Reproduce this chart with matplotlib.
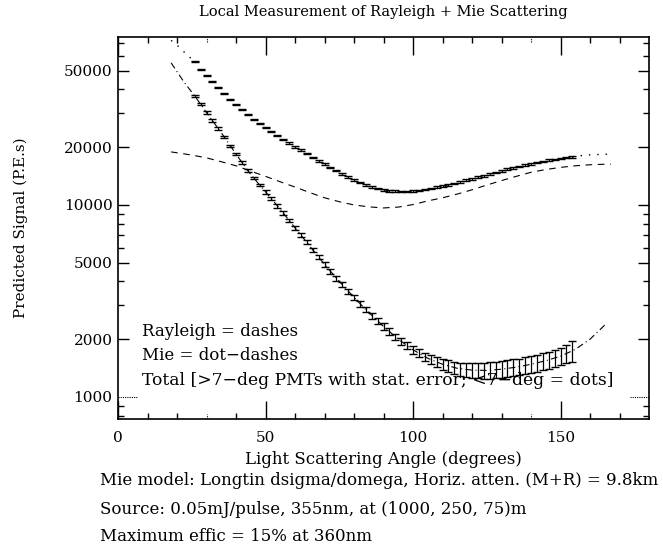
import numpy as np
import matplotlib
matplotlib.use("Agg")
import matplotlib.pyplot as plt
import matplotlib.transforms as mtransforms
from matplotlib.ticker import LogLocator, FixedLocator, NullFormatter

plt.rcParams.update({'font.size': 12, 'font.family': 'DejaVu Serif'})

# Total (>7-deg PMTs) with stat. errors, every 2 deg
tot_ang = [26, 28, 30, 32, 34, 36, 38, 40, 42, 44, 46, 48, 50, 52, 54, 56, 58, 60,
           62, 64, 66, 68, 70, 72, 74, 76, 78, 80, 82, 84, 86, 88, 90, 92, 94, 96,
           98, 100, 102, 104, 106, 108, 110, 112, 114, 116, 118, 120, 122, 124, 126,
           128, 130, 132, 134, 136, 138, 140, 142, 144, 146, 148, 150, 152, 154]
tot_sig = [55600, 51000, 47500, 44000, 41000, 38200, 35600, 33400, 31300, 29500,
           27900, 26600, 25400, 24200, 23000, 22000, 21000, 20100, 19300, 18500,
           17700, 17000, 16300, 15700, 15100, 14500, 14000, 13500, 13100, 12750,
           12450, 12200, 12000, 11850, 11780, 11750, 11750, 11800, 11900, 12050,
           12200, 12400, 12550, 12750, 12950, 13200, 13450, 13700, 13950, 14200,
           14500, 14800, 15050, 15350, 15600, 15850, 16100, 16350, 16600, 16850,
           17100, 17300, 17500, 17650, 17800]
tot_err = [300, 290, 280, 270, 260, 250, 240, 230, 220, 215, 210, 205, 200, 195,
           190, 185, 180, 175, 170, 165, 160, 155, 150, 145, 140, 140, 135, 135,
           130, 130, 125, 125, 125, 120, 120, 120, 120, 120, 120, 125, 125, 125,
           125, 130, 130, 130, 130, 135, 135, 135, 140, 140, 140, 145, 145, 145,
           150, 150, 150, 155, 155, 155, 160, 160, 160]

# Total, <7-deg PMTs (dots)
dot_lo_ang = [18, 20, 22, 24, 26]
dot_lo_sig = [72000, 68000, 63500, 59500, 55600]
dot_hi_ang = [154, 156, 158, 160, 162, 164, 166]
dot_hi_sig = [17800, 18000, 18150, 18250, 18300, 18350, 18400]

# lower curve with stat. errors
low_sig = [37000, 33500, 30300, 27500, 25000, 22600, 20300, 18400, 16700, 15100,
           13800, 12700, 11700, 10800, 9900, 9100, 8300, 7600, 7000, 6400, 5850,
           5350, 4900, 4500, 4150, 3850, 3550, 3300, 3050, 2850, 2650, 2480, 2330,
           2190, 2060, 1950, 1850, 1760, 1690, 1620, 1570, 1520, 1480, 1450, 1420,
           1400, 1390, 1380, 1375, 1375, 1380, 1385, 1395, 1410, 1425, 1440, 1460,
           1480, 1505, 1530, 1560, 1590, 1630, 1680, 1740]
low_err = [560, 500, 450, 410, 380, 340, 310, 280, 260, 240, 220, 210, 230, 220,
           210, 200, 190, 190, 175, 160, 150, 140, 130, 120, 115, 110, 105, 100,
           95, 95, 90, 90, 85, 85, 80, 80, 80, 80, 80, 80, 85, 90, 95, 100, 105,
           110, 115, 120, 125, 130, 135, 135, 140, 140, 145, 145, 150, 150, 155,
           155, 160, 160, 165, 175, 210]

# Rayleigh (dashes)
ray_ang = [18, 20, 25, 30, 35, 40, 45, 50, 55, 60, 65, 70, 75, 80, 85, 90, 95,
           100, 105, 110, 115, 120, 125, 130, 135, 140, 145, 150, 155, 160, 165, 167]
ray_sig = [18900, 18700, 18200, 17600, 16800, 16000, 15000, 14100, 13200, 12400,
           11600, 10900, 10400, 10000, 9780, 9650, 9750, 10050, 10500, 10900, 11400,
           12000, 12700, 13400, 14100, 14800, 15300, 15700, 16000, 16200, 16300, 16300]

# Mie (dot-dashes)
mie_ang = [18, 20, 22, 24, 26, 30, 35, 40, 45, 50, 55, 60, 65, 70, 75, 80, 85, 90,
           95, 100, 105, 110, 115, 120, 125, 130, 135, 140, 145, 150, 155, 160, 165]
mie_sig = [55000, 49500, 44500, 40500, 37000, 30300, 23800, 18400, 14400, 11700,
           9500, 7600, 6100, 4900, 4000, 3300, 2750, 2330, 2000, 1760, 1590, 1480,
           1410, 1380, 1375, 1395, 1430, 1480, 1545, 1630, 1770, 2000, 2370]

fig = plt.figure(figsize=(6.63, 5.52), dpi=100)
ax = fig.add_axes([0.178, 0.241, 0.801, 0.692])

ax.plot(ray_ang, ray_sig, color='black', lw=0.8, linestyle=(0, (6, 5)))
ax.plot(mie_ang, mie_sig, color='black', lw=0.8, linestyle=(0, (6, 3, 1, 3)))
ax.plot(dot_lo_ang, dot_lo_sig, color='black', lw=1.0, linestyle=(0, (1, 5)))
ax.plot(dot_hi_ang, dot_hi_sig, color='black', lw=1.0, linestyle=(0, (1, 5)))
ax.errorbar(tot_ang, tot_sig, yerr=tot_err, fmt='none', ecolor='black',
            elinewidth=0.9, capsize=2.8, capthick=1.0, zorder=3)
ax.errorbar(tot_ang, low_sig, yerr=low_err, fmt='none', ecolor='black',
            elinewidth=0.9, capsize=2.8, capthick=1.0, zorder=3)

ax.set_yscale('log')
ax.set_xlim(0, 180)
ax.set_ylim(768, 75000)

ax.yaxis.set_major_locator(FixedLocator([1000, 2000, 5000, 10000, 20000, 50000]))
ax.yaxis.set_major_formatter(plt.FuncFormatter(lambda v, p: '%d' % v))
ax.yaxis.set_minor_locator(LogLocator(base=10, subs=[3, 4, 6, 7, 8, 9]))
ax.yaxis.set_minor_formatter(NullFormatter())
ax.xaxis.set_major_locator(FixedLocator([0, 50, 100, 150]))
ax.xaxis.set_minor_locator(FixedLocator([10, 20, 40, 60, 70, 80, 90, 110, 120, 130, 160, 170]))

ax.tick_params(axis='both', which='both', direction='in', top=True, right=True,
               width=1.0, colors='black', labelsize=11)
ax.tick_params(axis='x', which='major', length=13, pad=9)
ax.tick_params(axis='x', which='minor', length=4)
ax.tick_params(axis='y', which='major', length=8, pad=4)
ax.tick_params(axis='y', which='minor', length=4)
for sp in ax.spines.values():
    sp.set_linewidth(1.2)

# dotted ticks (1000 on y, 30 and 140 on x)
t1000 = ax.yaxis.get_major_ticks()[0]
t1000.tick1line.set_visible(False)
t1000.tick2line.set_visible(False)
ty = mtransforms.blended_transform_factory(ax.transAxes, ax.transData)
ax.plot([0, 0.036], [1000, 1000], transform=ty, color='black', lw=0.8, linestyle=(0, (1, 1)))
ax.plot([0.964, 1], [1000, 1000], transform=ty, color='black', lw=0.8, linestyle=(0, (1, 1)))
tx = mtransforms.blended_transform_factory(ax.transData, ax.transAxes)
for xv in [30, 140]:
    ax.plot([xv, xv], [0, 0.014], transform=tx, color='black', lw=0.8, linestyle=(0, (1, 1)))
    ax.plot([xv, xv], [0.986, 1], transform=tx, color='black', lw=0.8, linestyle=(0, (1, 1)))

ax.set_xlabel('Light Scattering Angle (degrees)')
ax.xaxis.set_label_coords(0.5, -0.085)
ax.set_ylabel('Predicted Signal (P.E.s)', fontsize=11)
ax.yaxis.set_label_coords(-0.17, 0.5)

ax.text(0.045, 0.230, 'Rayleigh = dashes', va='center', zorder=2, transform=ax.transAxes)
ax.text(0.045, 0.165, 'Mie = dot\u2212dashes', va='center', zorder=2, transform=ax.transAxes)
ax.text(0.045, 0.0995, 'Total [>7\u2212deg PMTs with stat. error; <7\u2212deg = dots]',
        va='center', zorder=2, transform=ax.transAxes, fontsize=12.3)

fig.text(0.5785, 0.978, 'Local Measurement of Rayleigh + Mie Scattering', ha='center',
         va='center', fontsize=10.5)
fig.text(0.151, 0.129, 'Mie model: Longtin dsigma/domega, Horiz. atten. (M+R) = 9.8km',
         va='center')
fig.text(0.151, 0.077, 'Source: 0.05mJ/pulse, 355nm, at (1000, 250, 75)m', va='center')
fig.text(0.151, 0.020, 'Maximum effic = 15% at 360nm', va='baseline')

fig.savefig('out.png', dpi=100)
